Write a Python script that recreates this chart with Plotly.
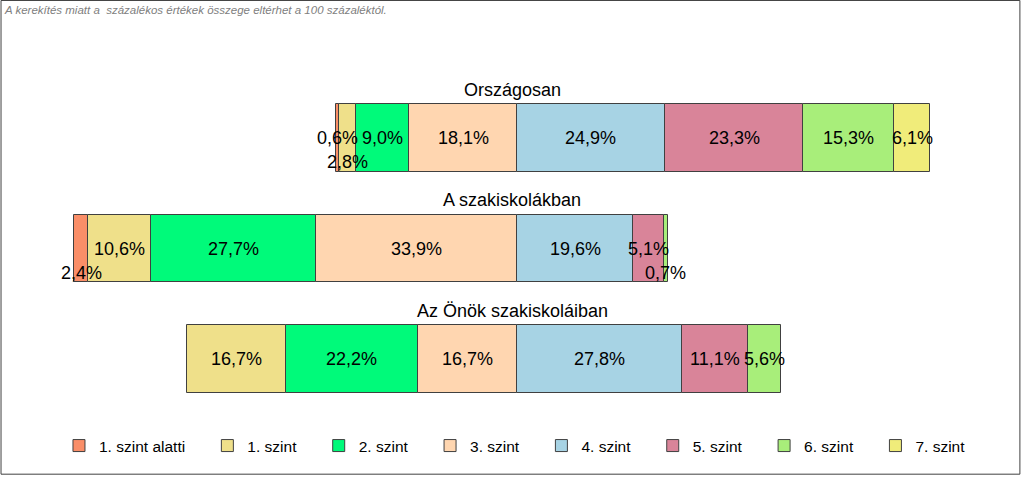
import plotly.graph_objects as go

rows = ["Országosan", "A szakiskolákban", "Az Önök szakiskoláiban"]
levels = ["1. szint alatti", "1. szint", "2. szint", "3. szint",
          "4. szint", "5. szint", "6. szint", "7. szint"]
colors = ["#FA8E68", "#EFE08A", "#00FA7A", "#FFD6B0",
          "#A7D3E4", "#D98499", "#A8EE7A", "#F0EC7A"]

orszagosan = [0.6, 2.8, 9.0, 18.1, 24.9, 23.3, 15.3, 6.1]
szakiskolak = [2.4, 10.6, 27.7, 33.9, 19.6, 5.1, 0.7, 0.0]
onok = [0.0, 16.7, 22.2, 16.7, 27.8, 11.1, 5.6, 0.0]
data = [orszagosan, szakiskolak, onok]

note = "A kerekítés miatt a  százalékos értékek összege eltérhet a 100 százaléktól."

# labels that Excel pushed below the bar because the segment is too thin
label_shift = {(0, 1): 0.22, (1, 0): 0.22, (1, 6): 0.22}

FONT = "Liberation Sans, Arial, sans-serif"
ypos = list(range(len(rows)))
pad = "\u00a0" * 4  # a bit more room between legend entries

fig = go.Figure()

# below level 4 goes to the left of zero, nearest-to-zero first so it stacks outward
for i in [3, 2, 1, 0, 4, 5, 6, 7]:
    sign = -1 if i < 4 else 1
    xs = [sign * d[i] if d[i] > 0 else None for d in data]
    fig.add_trace(go.Bar(
        x=xs, y=ypos, orientation="h", name=levels[i] + pad,
        marker=dict(color=colors[i], line=dict(color="#404040", width=1)),
        width=0.615, legendrank=i + 1, hoverinfo="skip",
    ))

annotations = []
for r, d in enumerate(data):
    for i, v in enumerate(d):
        if v <= 0:
            continue
        if i < 4:
            center = -(sum(d[i + 1:4]) + v / 2)
        else:
            center = sum(d[4:i]) + v / 2
        annotations.append(dict(
            x=center, y=r + label_shift.get((r, i), 0), xref="x", yref="y",
            text=f"{v:.1f}".replace(".", ",") + "%", showarrow=False,
            font=dict(family=FONT, size=18, color="#000000"),
        ))
    annotations.append(dict(
        x=0.5, y=r - 0.435, xref="paper", yref="y", text=rows[r],
        showarrow=False, font=dict(family=FONT, size=18, color="#000000"),
    ))

annotations.append(dict(
    x=0.002, y=0.979, xref="paper", yref="paper", xanchor="left", yanchor="middle",
    text=f"<i>{note}</i>", showarrow=False,
    font=dict(family=FONT, size=11.5, color="#808080"),
))

fig.update_layout(
    width=1024, height=478,
    margin=dict(l=0, r=0, t=0, b=0),
    paper_bgcolor="white", plot_bgcolor="white",
    barmode="relative", bargap=0,
    xaxis=dict(range=[-517 / 5.94, 507 / 5.94], visible=False, fixedrange=True),
    yaxis=dict(range=[3.077, -1.249], visible=False, fixedrange=True),
    showlegend=True,
    legend=dict(orientation="h", x=0.0576, xanchor="left", y=0.067, yanchor="middle",
                font=dict(family=FONT, size=15.5, color="#000000"),
                bgcolor="rgba(0,0,0,0)"),
    annotations=annotations,
    shapes=[dict(type="rect", xref="paper", yref="paper",
                 x0=0.001, x1=0.996, y0=0.008, y1=0.999,
                 line=dict(color="#404040", width=1))],
)

fig.write_html("out.html", config={"displayModeBar": False},
               post_script="document.body.style.margin='0';")
